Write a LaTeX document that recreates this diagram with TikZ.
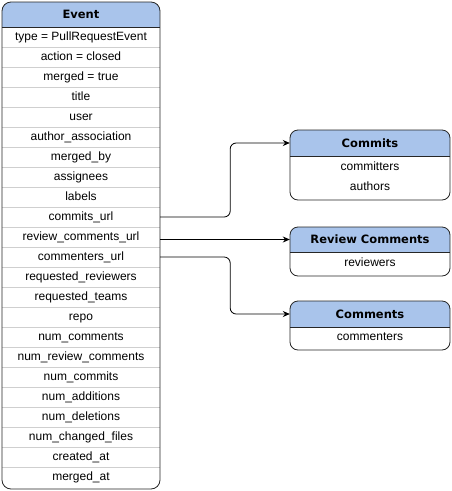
\documentclass[tikz,border=0pt]{standalone}
\usepackage{fontspec}
\setmainfont{Liberation Sans}
\newfontfamily\headfont{DejaVu Sans}
\usetikzlibrary{arrows.meta}
\definecolor{headblue}{HTML}{A9C4EB}
\definecolor{rowgray}{HTML}{CFCFCF}
\tikzset{
  tbl/.style={draw=black!85, line width=0.8pt, rounded corners=8},
  hdr/.style={font=\headfont\bfseries\fontsize{11.5}{14}\selectfont, minimum width=160, minimum height=25, inner sep=0, text height=8.5pt, text depth=0pt},
  fld/.style={font=\fontsize{12}{14}\selectfont, minimum width=158, minimum height=20, inner sep=0, text height=8.6pt, text depth=2.6pt},
  link/.style={draw, line width=0.8pt, rounded corners=6, -{Stealth[length=7pt,width=6pt]}}
}
\begin{document}
\begin{tikzpicture}[x=1pt,y=-1pt]
    \useasboundingbox (0,0) rectangle (451,491);
    % Event table
    \begin{scope}
        \clip[rounded corners=9] (2,2) rectangle (160,489);
        \fill[headblue] (2,2) rectangle (160,27);
    \end{scope}
    \foreach \i in {1,...,22} { \draw[rowgray] (2,27+20*\i) -- (160,27+20*\i); }
    \draw[black!85, line width=0.8pt] (2,27) -- (160,27);
    \draw[tbl, rounded corners=9] (2,2) rectangle (160,489);
    \node[hdr, minimum width=158] (event) at (81,14.5) {Event};
    \foreach \t [count=\i] in {type = PullRequestEvent, action = closed, merged = true, title, user,
        author\_association, merged\_by, assignees, labels, commits\_url, review\_comments\_url,
        commenters\_url, requested\_reviewers, requested\_teams, repo, num\_comments,
        num\_review\_comments, num\_commits, num\_additions, num\_deletions, num\_changed\_files,
        created\_at, merged\_at}
        { \node[fld] (ev\i) at (81,17+20*\i) {\t}; }
    % Commits
    \begin{scope}
        \clip[rounded corners=8] (290,130) rectangle (450,200);
        \fill[headblue] (290,130) rectangle (450,156);
    \end{scope}
    \draw[black!85, line width=0.8pt] (290,156) -- (450,156);
    \draw[tbl] (290,130) rectangle (450,200);
    \node[hdr] (commits) at (370,143) {Commits};
    \node[fld, minimum width=160] (cm1) at (370,167) {committers};
    \node[fld, minimum width=160] (cm2) at (370,187) {authors};
    % Review Comments
    \begin{scope}
        \clip[rounded corners=8] (290,227) rectangle (450,276);
        \fill[headblue] (290,227) rectangle (450,252);
    \end{scope}
    \draw[black!85, line width=0.8pt] (290,252) -- (450,252);
    \draw[tbl] (290,227) rectangle (450,276);
    \node[hdr] (review) at (370,239.5) {Review Comments};
    \node[fld, minimum width=160] (rv1) at (370,263.5) {reviewers};
    % Comments
    \begin{scope}
        \clip[rounded corners=8] (290,301) rectangle (450,350);
        \fill[headblue] (290,301) rectangle (450,327);
    \end{scope}
    \draw[black!85, line width=0.8pt] (290,327) -- (450,327);
    \draw[tbl] (290,301) rectangle (450,350);
    \node[hdr] (comments) at (370,314) {Comments};
    \node[fld, minimum width=160] (co1) at (370,337.5) {commenters};
    % links
    \draw[link] (ev10.east) -- ++(70,0) |- (commits.west);
    \draw[link] (ev11.east |- review.west) -- (review.west);
    \draw[link] (ev12.east) -- ++(70,0) |- (comments.west);
\end{tikzpicture}
\end{document}
